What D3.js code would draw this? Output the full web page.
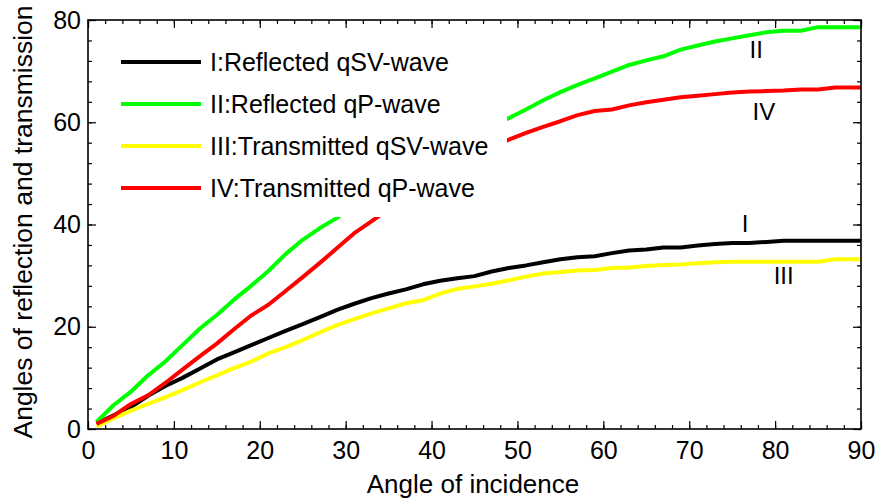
<!DOCTYPE html>
<html>
<head>
<meta charset="utf-8">
<script src="https://cdn.jsdelivr.net/npm/d3@7"></script>
<style>
  html, body { margin: 0; padding: 0; background: #fff; }
  svg { display: block; font-family: "Liberation Sans", Arial, sans-serif; }
</style>
</head>
<body>
<svg id="chart" width="876" height="501"></svg>
<script>
const angles = [1,3,5,7,9,11,13,15,17,19,21,23,25,27,29,31,33,35,37,39,41,43,45,47,49,51,53,55,57,59,61,63,65,67,69,71,73,75,77,79,81,83,85,87,89,90];
const reflectedQSV = [1.1,2.7,4.3,6.5,8.4,10.0,11.8,13.6,15.0,16.4,17.8,19.2,20.5,21.9,23.3,24.5,25.6,26.5,27.3,28.3,29.0,29.5,29.9,30.8,31.5,32.0,32.6,33.2,33.6,33.8,34.4,34.9,35.1,35.5,35.5,35.9,36.2,36.4,36.4,36.6,36.8,36.8,36.8,36.8,36.8,36.8];
const reflectedQP = [1.4,4.7,7.3,10.5,13.2,16.4,19.6,22.3,25.3,28.0,30.9,34.2,37.0,39.3,41.3,44.0,46.3,48.5,50.6,52.5,54.4,56.2,57.9,59.4,60.8,62.5,64.3,65.9,67.3,68.6,69.9,71.2,72.1,72.9,74.2,75.0,75.8,76.4,77.0,77.6,77.9,77.9,78.6,78.6,78.6,78.6];
const transmittedQSV = [0.5,2.1,3.6,4.9,6.2,7.6,9.1,10.5,11.9,13.2,14.8,16.0,17.4,18.9,20.3,21.5,22.6,23.6,24.6,25.2,26.5,27.4,27.9,28.4,29.1,29.8,30.4,30.7,31.0,31.1,31.5,31.6,31.9,32.1,32.2,32.4,32.6,32.7,32.7,32.7,32.7,32.7,32.7,33.2,33.2,33.2];
const transmittedQP = [1.0,2.6,4.9,6.6,9.0,11.6,14.2,16.7,19.5,22.2,24.3,27.0,29.7,32.5,35.4,38.3,40.6,43.0,45.5,47.8,49.8,51.7,53.3,55.0,56.6,57.9,59.1,60.2,61.4,62.2,62.5,63.3,63.9,64.4,64.9,65.2,65.5,65.8,66.0,66.1,66.2,66.4,66.4,66.8,66.8,66.8];

const seriesNames = ["I:Reflected qSV-wave","II:Reflected qP-wave","III:Transmitted qSV-wave","IV:Transmitted qP-wave"];
const seriesColors = ["#000000","#00ff00","#ffff00","#ff0000"];
const seriesValues = [reflectedQSV, reflectedQP, transmittedQSV, transmittedQP];
const curveLabels = ["I","II","III","IV"];
const curveLabelPos = [[76.5,38.5],[77.8,72.5],[81,28.3],[78.7,60.5]];

const xTicks = [0,10,20,30,40,50,60,70,80,90];
const yTicks = [0,20,40,60,80];

const svg = d3.select("#chart");
const L = 88, R = 861, T = 20, B = 429;
const x = d3.scaleLinear().domain([0,90]).range([L,R]);
const y = d3.scaleLinear().domain([0,80]).range([B,T]);

// Lines
const line = d3.line().x(d => x(d[0])).y(d => y(d[1]));
seriesValues.forEach((vals, i) => {
  svg.append("path")
    .datum(angles.map((a, j) => [a, vals[j]]))
    .attr("d", line)
    .attr("fill", "none")
    .attr("stroke", seriesColors[i])
    .attr("stroke-width", 4)
    .attr("stroke-linejoin", "round");
});

// Legend box (white, hides lines)
const lg = svg.append("g");
lg.append("rect").attr("x", 100).attr("y", 38).attr("width", 407).attr("height", 179).attr("fill", "#fff");
seriesNames.forEach((n, i) => {
  const yy = 62 + i * 42;
  lg.append("line").attr("x1", 121).attr("x2", 201).attr("y1", yy).attr("y2", yy)
    .attr("stroke", seriesColors[i]).attr("stroke-width", 4);
  lg.append("text").attr("x", 210).attr("y", yy + 9).attr("font-size", 25).attr("fill", "#000").text(n);
});

// Curve labels
curveLabels.forEach((t, i) => {
  svg.append("text").attr("x", x(curveLabelPos[i][0])).attr("y", y(curveLabelPos[i][1]))
    .attr("text-anchor", "middle").attr("font-size", 24).text(t);
});

// Axes
const axisStyle = g => {
  g.selectAll(".domain").remove();
  g.selectAll("line").attr("stroke", "#000").attr("stroke-width", 1.2);
  g.selectAll("text").attr("font-size", 25).attr("fill", "#000").attr("font-family", "Liberation Sans, Arial, sans-serif");
};
const xMinor = d3.range(0, 91, 2);
const yMinor = d3.range(0, 81, 4);

svg.append("g").attr("transform", `translate(0,${B})`)
  .call(d3.axisBottom(x).tickValues(xMinor).tickSize(-4).tickFormat(""))
  .call(axisStyle);
svg.append("g").attr("transform", `translate(0,${B})`)
  .call(d3.axisBottom(x).tickValues(xTicks).tickSize(-8).tickFormat(d3.format("d")))
  .call(axisStyle)
  .call(g => g.selectAll("text").attr("dy", "0.71em").attr("y", 12));
svg.append("g").attr("transform", `translate(0,${T})`)
  .call(d3.axisTop(x).tickValues(xMinor).tickSize(-4).tickFormat(""))
  .call(axisStyle);
svg.append("g").attr("transform", `translate(0,${T})`)
  .call(d3.axisTop(x).tickValues(xTicks).tickSize(-8).tickFormat(""))
  .call(axisStyle);

svg.append("g").attr("transform", `translate(${L},0)`)
  .call(d3.axisLeft(y).tickValues(yMinor).tickSize(-4).tickFormat(""))
  .call(axisStyle);
svg.append("g").attr("transform", `translate(${L},0)`)
  .call(d3.axisLeft(y).tickValues(yTicks).tickSize(-8).tickFormat(d3.format("d")))
  .call(axisStyle)
  .call(g => g.selectAll("text").attr("x", -7));
svg.append("g").attr("transform", `translate(${R},0)`)
  .call(d3.axisRight(y).tickValues(yMinor).tickSize(-4).tickFormat(""))
  .call(axisStyle);
svg.append("g").attr("transform", `translate(${R},0)`)
  .call(d3.axisRight(y).tickValues(yTicks).tickSize(-8).tickFormat(""))
  .call(axisStyle);

// Frame
svg.append("rect").attr("x", L).attr("y", T).attr("width", R - L).attr("height", B - T)
  .attr("fill", "none").attr("stroke", "#000").attr("stroke-width", 1.6);

// Axis titles
svg.append("text").attr("x", 473).attr("y", 493).attr("text-anchor", "middle")
  .attr("font-size", 26).text("Angle of incidence");
svg.append("text").attr("transform", `translate(32,222) rotate(-90)`)
  .attr("text-anchor", "middle").attr("font-size", 26.5).text("Angles of reflection and transmission");
</script>
</body>
</html>
